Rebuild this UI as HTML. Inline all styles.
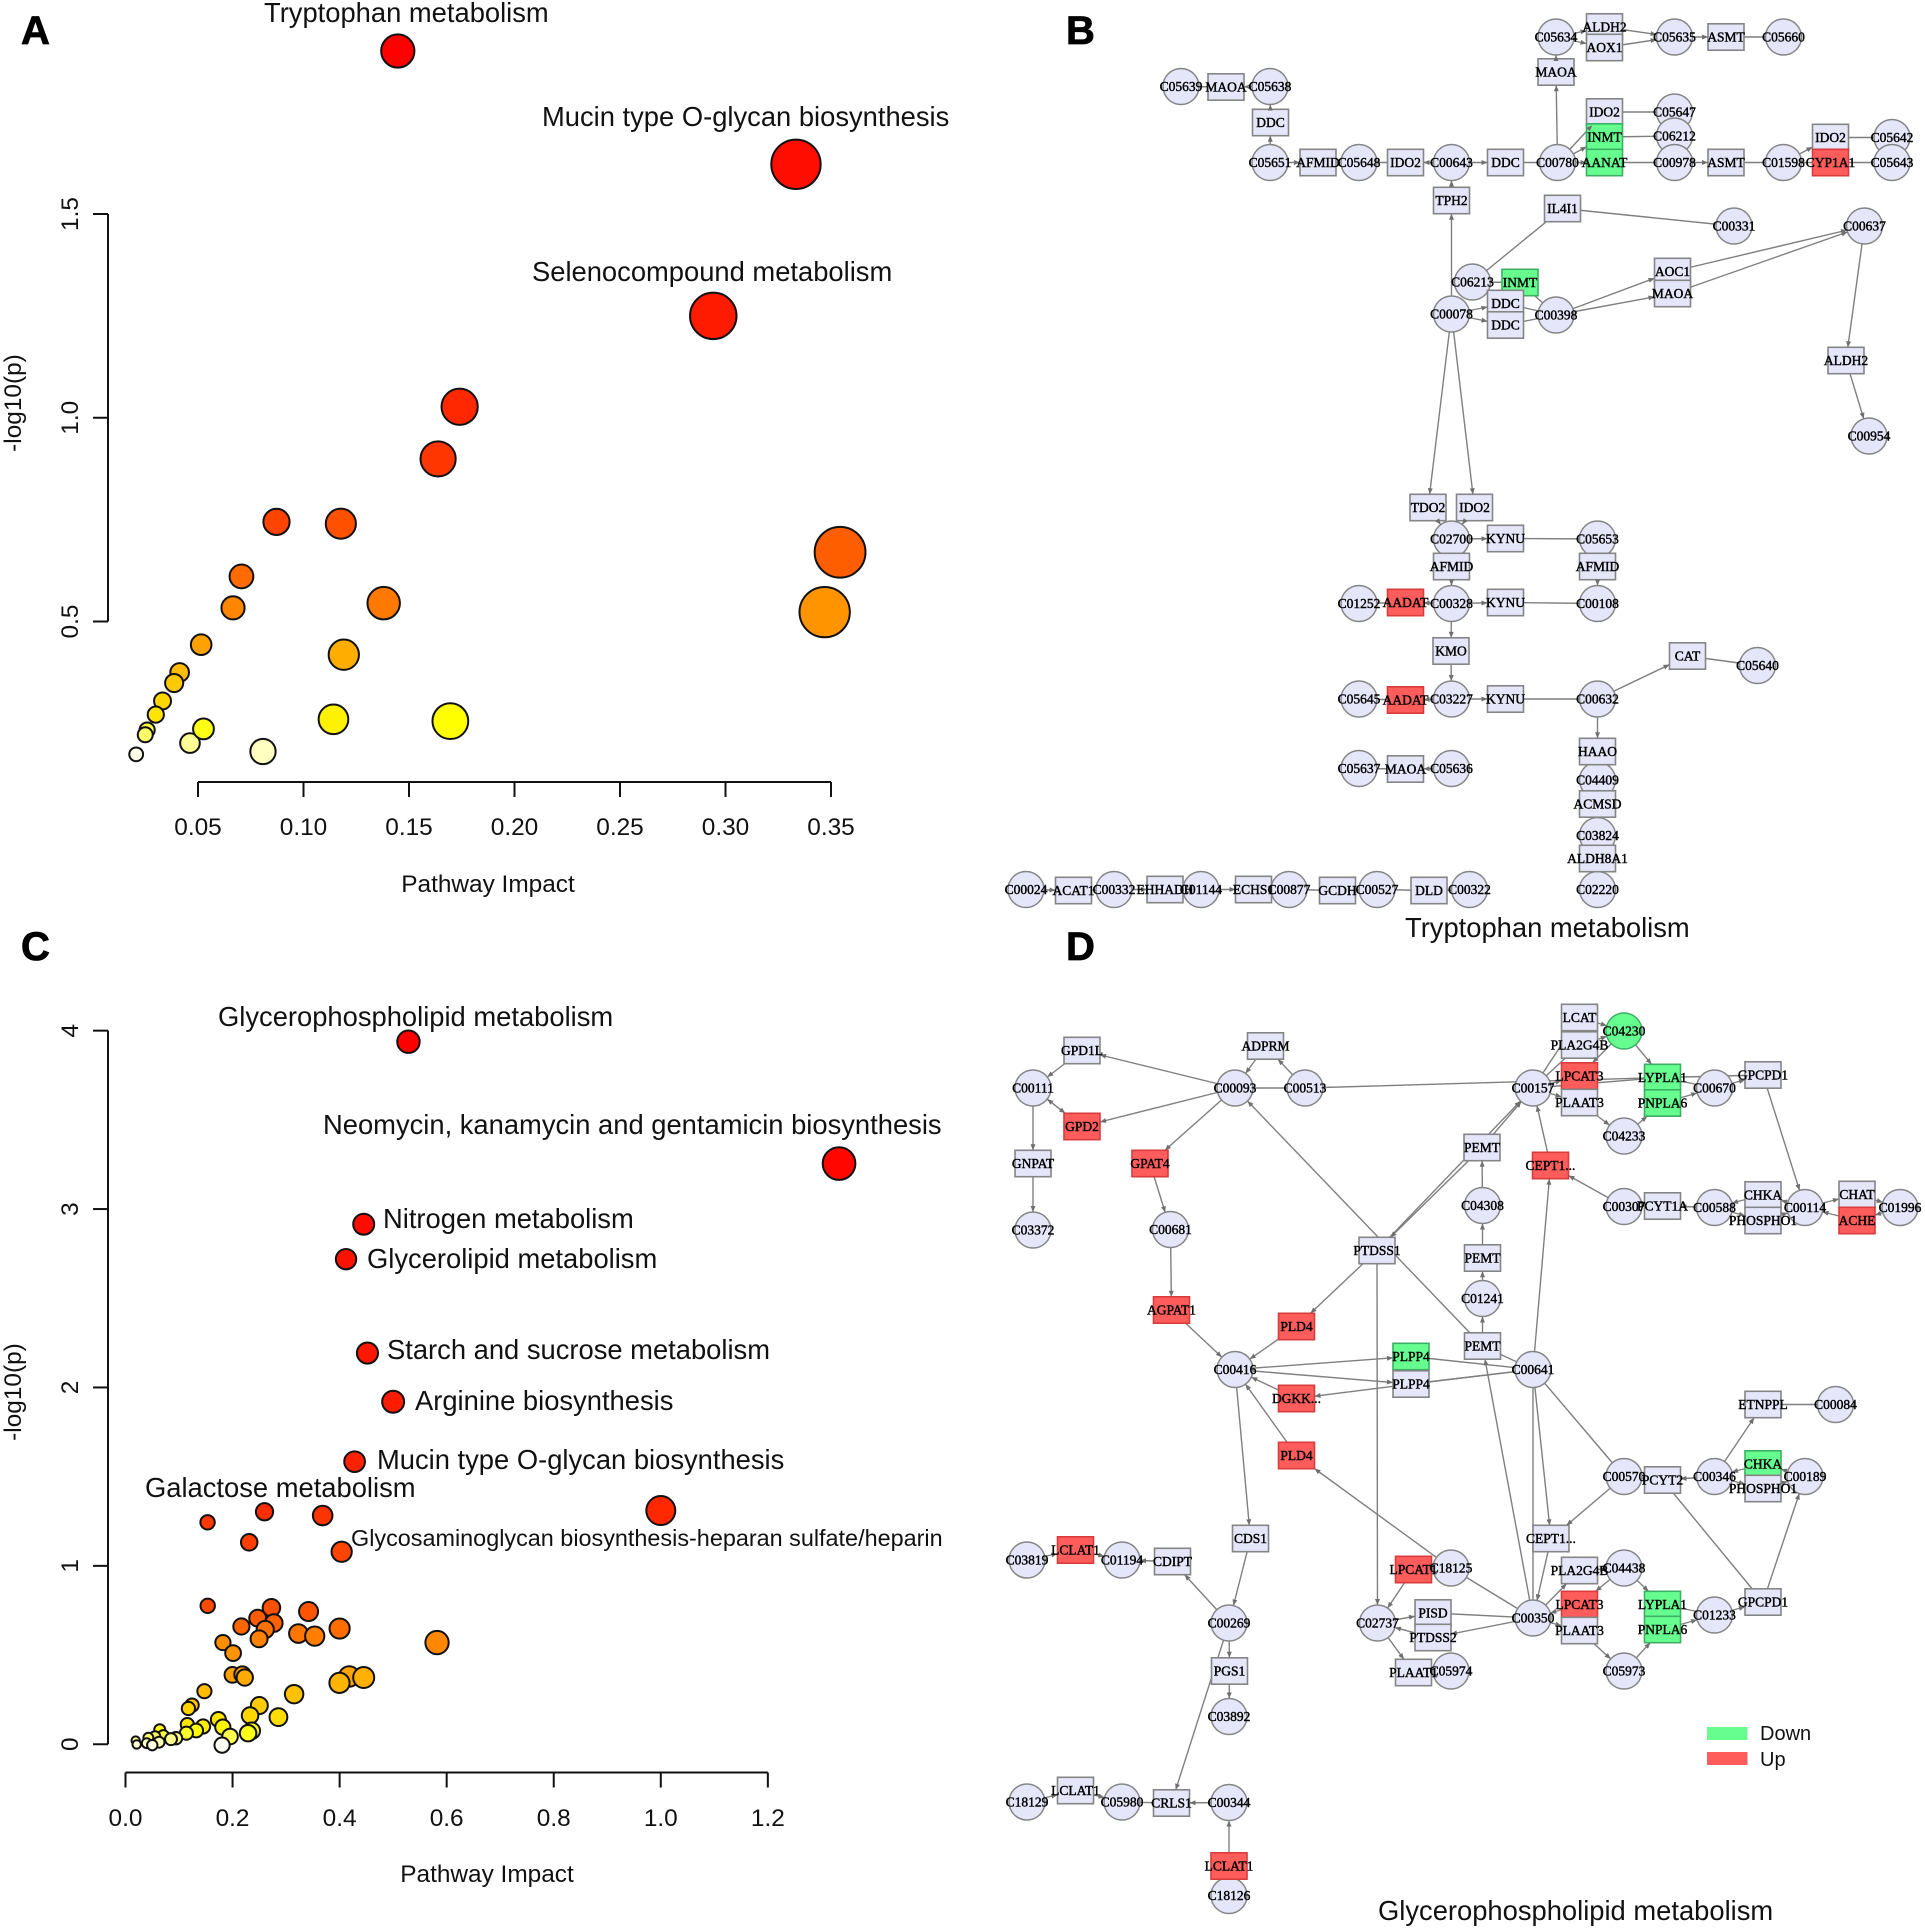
<!DOCTYPE html>
<html lang="en">
<head>
<meta charset="utf-8">
<title>Metabolic pathway analysis figure</title>
<style>
html,body{margin:0;padding:0;background:#fff;width:1925px;height:1930px;overflow:hidden}
svg{display:block}
text{font-family:"Liberation Sans",sans-serif;fill:#111}
.plot-label{font-size:27.35px}
.axis-text{font-size:24.4px}
.panel-letter{font-size:40px;font-weight:bold;fill:#000;stroke:#000;stroke-width:.8}
.node-text{font-family:"Liberation Serif",serif;font-size:13.5px;fill:#000;stroke:#000;stroke-width:.42;text-anchor:middle}
</style>
</head>
<body>
<svg id="figure" xmlns="http://www.w3.org/2000/svg" width="1925" height="1930" viewBox="0 0 1925 1930">
  <rect width="1925" height="1930" fill="#fff"/>

  <g id="panel-a"></g>
  <g id="panel-b"></g>
  <g id="panel-c"></g>
  <g id="panel-d"></g>

  <text class="panel-letter" x="21" y="44">A</text>
  <text class="panel-letter" x="1066" y="44">B</text>
  <text class="panel-letter" x="21" y="960">C</text>
  <text class="panel-letter" x="1066" y="960">D</text>

  <text class="plot-label" x="264" y="22">Tryptophan metabolism</text>
  <text class="plot-label" x="542" y="126">Mucin type O-glycan biosynthesis</text>
  <text class="plot-label" x="532" y="281">Selenocompound metabolism</text>
  <text class="axis-text" x="488" y="892" text-anchor="middle">Pathway Impact</text>
  <text class="axis-text" x="21" y="403" text-anchor="middle" transform="rotate(-90 21 403)">-log10(p)</text>

  <text class="plot-label" x="218" y="1026">Glycerophospholipid metabolism</text>
  <text class="plot-label" x="323" y="1134">Neomycin, kanamycin and gentamicin biosynthesis</text>
  <text class="plot-label" x="383" y="1228">Nitrogen metabolism</text>
  <text class="plot-label" x="367" y="1268">Glycerolipid metabolism</text>
  <text class="plot-label" x="387" y="1359">Starch and sucrose metabolism</text>
  <text class="plot-label" x="415" y="1410">Arginine biosynthesis</text>
  <text class="plot-label" x="377" y="1469">Mucin type O-glycan biosynthesis</text>
  <text class="plot-label" x="145" y="1497">Galactose metabolism</text>
  <text x="351" y="1546" font-size="23.4">Glycosaminoglycan biosynthesis-heparan sulfate/heparin</text>
  <text class="axis-text" x="487" y="1882" text-anchor="middle">Pathway Impact</text>
  <text class="axis-text" x="21" y="1392" text-anchor="middle" transform="rotate(-90 21 1392)">-log10(p)</text>

  <text class="plot-label" x="1405" y="937">Tryptophan metabolism</text>
  <text class="plot-label" x="1378" y="1920">Glycerophospholipid metabolism</text>

  <g>
    <rect x="1707" y="1727" width="40.5" height="13" fill="#66FF8F"/>
    <text x="1760" y="1740" font-size="20">Down</text>
    <rect x="1707" y="1752" width="40.5" height="13" fill="#FF5C5C"/>
    <text x="1760" y="1766" font-size="20">Up</text>
  </g>
</svg>

<script>
// ---- Panel A data ----
const aImpact = [0.1447,0.3334,0.2942,0.174,0.1638,0.0872,0.1177,0.3543,0.347,0.0706,0.0666,0.138,0.0515,0.1191,0.0413,0.0387,0.0332,0.030,0.0259,0.025,0.0207,0.0462,0.0526,0.0808,0.1142,0.1696];
const aLogP = [1.90,1.622,1.25,1.027,0.899,0.7445,0.74,0.67,0.523,0.6106,0.5335,0.545,0.443,0.4185,0.375,0.349,0.305,0.2715,0.2336,0.222,0.174,0.2016,0.2365,0.181,0.26,0.2555];
const aXTicks = ["0.05","0.10","0.15","0.20","0.25","0.30","0.35"];
const aYTicks = ["0.5","1.0","1.5"];

// ---- Panel C data ----
const cImpact = [0.5286,1.333,0.445,0.412,0.452,0.50,0.428,1.0,0.2597,0.3683,0.1533,0.2311,0.4038,0.1536,0.2726,0.342,0.247,0.277,0.2165,0.261,0.40,0.323,0.3535,0.2495,0.582,0.182,0.201,0.1997,0.2184,0.2228,0.418,0.445,0.3997,0.1474,0.315,0.25,0.1243,0.1175,0.2327,0.2857,0.1735,0.1155,0.1449,0.064,0.1818,0.1321,0.2358,0.229,0.1137,0.1953,0.0707,0.0944,0.085,0.0551,0.0427,0.019,0.0626,0.0396,0.0209,0.05,0.1804];
const cLogP = [3.938,3.255,2.915,2.719,2.193,1.92,1.584,1.31,1.303,1.282,1.244,1.132,1.079,0.776,0.765,0.744,0.7066,0.679,0.66,0.643,0.6486,0.6205,0.606,0.591,0.57,0.57,0.511,0.389,0.391,0.374,0.38,0.374,0.344,0.2975,0.2807,0.217,0.219,0.2004,0.161,0.152,0.139,0.1105,0.0995,0.081,0.0957,0.077,0.0754,0.062,0.062,0.0434,0.0474,0.034,0.0284,0.0434,0.0362,0.021,0.0115,0.006,-0.001,-0.005,-0.005];
const cXTicks = ["0.0","0.2","0.4","0.6","0.8","1.0","1.2"];
const cYTicks = ["0","1","2","3","4"];

// ---- Network diagram B: [key, centre x, centre y, regulation] ----
const bNodes = [
["C05634",1556,37],["ALDH2#a",1604.5,27],["AOX1",1604.5,47.5],["C05635",1674.5,37],["ASMT#a",1726,37],["C05660",1783.5,37],["MAOA#t",1556,72],
["C05639",1181,86.5],["MAOA#a",1226,87],["C05638",1270,86.5],["DDC#a",1270.5,122.5],["C05651",1270,162.5],["AFMID#a",1318,162.5],["C05648",1359,162.5],["IDO2#a",1405.5,162.5],["C00643",1451.5,162.5],["DDC#b",1505.5,162.5],["C00780",1557.5,162.5],
["IDO2#b",1604.5,112],["C05647",1674.5,112],["INMT#a",1604.5,137,"g"],["C06212",1674.5,136],["AANAT",1604.5,162.5,"g"],["C00978",1674.5,162.5],["ASMT#b",1726,162.5],["C01598",1783.5,162.5],["IDO2#c",1830.5,137.5],["C05642",1892,137.5],["CYP1A1",1830.5,162.5,"r"],["C05643",1892,162.5],
["TPH2",1451.5,200.5],["IL4I1",1562.5,208.5],["C00331",1734,226],["C00637",1864.5,226],["C06213",1472.5,282],["INMT#b",1520,282.5,"g"],["DDC#c",1505.5,303.5],["DDC#d",1505.5,325],["C00078",1451.5,314],["C00398",1556,315],["AOC1",1672.5,271.5],["MAOA#b",1672.5,293.5],["ALDH2#b",1846,360.5],["C00954",1869,436],
["TDO2",1428,507.5],["IDO2#d",1474.5,507.5],["C02700",1451.5,539],["KYNU#a",1505.5,538.5],["C05653",1597.5,539],["AFMID#b",1451.5,566.5],["AFMID#c",1597.5,566.5],["C01252",1359,603.5],["AADAT#a",1405.5,602.5,"r"],["C00328",1451.5,603.5],["KYNU#b",1505.5,602.5],["C00108",1597.5,603.5],["KMO",1451,651],["CAT",1687.5,656],["C05640",1757.5,665.5],
["C05645",1359,699],["AADAT#b",1405.5,700,"r"],["C03227",1451.5,699],["KYNU#c",1505.5,699],["C00632",1597.5,699],["HAAO",1597.5,751.5],["C04409",1597.5,780],["C05637",1359,768.5],["MAOA#c",1405.5,769],["C05636",1451.5,768.5],["ACMSD",1597.5,804],["C03824",1597.5,835.5],["ALDH8A1",1597.5,858.5],["C02220",1597.5,889.5],
["C00024",1026,889.5],["ACAT1",1073.5,890.5],["C00332",1114,889.5],["EHHADH",1165,889.5],["C01144",1201,889.5],["ECHS1",1253.5,889.5],["C00877",1289,889.5],["GCDH",1337.5,890.5],["C00527",1377,889.5],["DLD",1429,890.5],["C00322",1469.5,889.5]
];
const bEdges = ["C05634>ALDH2#a","C05634>AOX1","ALDH2#a>C05635","AOX1>C05635","C05635>ASMT#a","ASMT#a-C05660","MAOA#t>C05634","C00780>MAOA#t","C05638>MAOA#a","MAOA#a-C05639","C05651>DDC#a","DDC#a>C05638","C05651>AFMID#a","AFMID#a-C05648","C05648-IDO2#a","C00643>IDO2#a","C00643>DDC#b","DDC#b-C00780","C00780>IDO2#b","C00780>INMT#a","C00780>AANAT","IDO2#b-C05647","INMT#a-C06212","AANAT-C00978","C00978>ASMT#b","ASMT#b-C01598","C01598>IDO2#c","C01598-CYP1A1","IDO2#c-C05642","CYP1A1-C05643","TPH2>C00643","C00078>TPH2","IL4I1-C00331","C06213-IL4I1","C06213-INMT#b","INMT#b-C00398","C00078>DDC#c","C00078>DDC#d","DDC#c-C00398","DDC#d-C00398","C00398>AOC1","C00398>MAOA#b","AOC1>C00637","MAOA#b>C00637","C00637>ALDH2#b","ALDH2#b>C00954","C00078>TDO2","C00078>IDO2#d","TDO2>C02700","IDO2#d>C02700","C02700>KYNU#a","KYNU#a-C05653","C02700-AFMID#b","AFMID#b>C00328","C05653-AFMID#c","AFMID#c>C00108","C01252-AADAT#a","C00328>AADAT#a","C00328>KYNU#b","KYNU#b-C00108","C00328>KMO","KMO>C03227","C05645-AADAT#b","C03227>AADAT#b","C03227>KYNU#c","KYNU#c-C00632","C00632>CAT","CAT-C05640","C00632>HAAO","HAAO-C04409","C04409-ACMSD","ACMSD-C03824","C03824-ALDH8A1","ALDH8A1-C02220","C05637-MAOA#c","C05636>MAOA#c","C00024>ACAT1","ACAT1-C00332","C00332>EHHADH","EHHADH-C01144","C01144>ECHS1","ECHS1-C00877","C00877-GCDH","GCDH-C00527","C00527-DLD","DLD-C00322"];

// ---- Network diagram D: [key, centre x, centre y, regulation] ----
const dNodes = [
["GPD1L",1082,1050.5],["ADPRM",1265.5,1046],["LCAT",1579.5,1017.5],["PLA2G4B#a",1579.5,1045],["C04230",1624,1031,"g"],["C00111",1033,1088],["C00093",1235,1088],["C00513",1305,1088],["C00157",1533,1088],["LPCAT3#a",1579.5,1076,"r"],["LYPLA1#a",1662.5,1077.5,"g"],["C00670",1714.5,1088],["GPCPD1#a",1763,1075],["PLAAT3#a",1579.5,1102.5],["PNPLA6#a",1662.5,1103,"g"],["C04233",1624,1136],["GPD2",1082,1126.5,"r"],["GNPAT",1033,1163.5],["GPAT4",1150,1163.5,"r"],["PEMT#a",1482,1147.5],["CEPT1...#a",1550.5,1165.5,"r"],["C03372",1033,1230],["C00681",1170.5,1229.5],["C04308",1482.5,1205.5],["C00307",1624,1206.5],["PCYT1A",1662.5,1206],["C00588",1714.5,1207.5],["CHKA#a",1763,1195],["C00114",1805,1207.5],["CHAT",1857,1194.5],["C01996",1900,1207.5],["PHOSPHO1#a",1763,1220.5],["ACHE",1857,1220.5,"r"],["PTDSS1",1377,1250.5],["PEMT#b",1482.5,1258],["C01241",1482.5,1298.5],["AGPAT1",1171.5,1310,"r"],["PLD4#a",1296.5,1326.5,"r"],["PEMT#c",1482.5,1346],["PLPP4#g",1411,1356.5,"g"],["C00416",1235,1369.5],["C00641",1533,1369.5],["PLPP4#p",1411,1384],["DGKK...",1296.5,1398.5,"r"],["ETNPPL",1763,1404.5],["C00084",1835.5,1404.5],["PLD4#b",1296.5,1455.5,"r"],
["CHKA#b",1763,1464,"g"],["C00570",1624,1476.5],["PCYT2",1662.5,1480],["C00346",1714.5,1476.5],["C00189",1805,1476.5],["PHOSPHO1#b",1763,1488.5],["CEPT1...#b",1551,1538.5],["CDS1",1250.5,1538.5],["C03819",1027,1560],["LCLAT1#a",1075.5,1550,"r"],["C01194",1122,1560],["CDIPT",1172.5,1561.5],["LPCAT1",1413.5,1569.5,"r"],["C18125",1451,1568],["PLA2G4B#b",1579.5,1570.5],["C04438",1624,1568],["LPCAT3#b",1579.5,1604.5,"r"],["LYPLA1#b",1662.5,1604.5,"g"],["C01233",1714.5,1615],["GPCPD1#b",1763,1602],["C02737",1377.5,1623],["PISD",1433,1613],["C00350",1533,1618],["C00269",1229,1623],["PTDSS2",1433,1637.5],["PLAAT3#b",1579.5,1630.5],["PNPLA6#b",1662.5,1629.5,"g"],["PGS1",1229.5,1671],["PLAAT1",1413.5,1672.5],["C05974",1451,1671],["C05973",1624,1671],["C03892",1229,1716.5],["LCLAT1#b",1075.5,1790.5],["C18129",1027,1802],["C05980",1122,1802],["CRLS1",1171.5,1803],["C00344",1229,1802.5],["LCLAT1#c",1229,1866,"r"],["C18126",1229,1895.5]
];
const dEdges = ["C00093>GPD1L","GPD1L>C00111","C00111>GPD2","GPD2>C00111","C00093>GPD2","C00111>GNPAT","GNPAT>C03372","ADPRM>C00093","C00513>ADPRM","C00093-C00513","C00513-LYPLA1#a","C00093>GPAT4","GPAT4>C00681","C00681>AGPAT1","AGPAT1>C00416","PEMT#c>C00093","C00641-PEMT#c","PTDSS1>PLD4#a","PLD4#a>C00416","PTDSS1>C02737","PEMT#a>PTDSS1","PTDSS1>C00157","PEMT#a>C00157","C04308>PEMT#a","PEMT#b>C04308","C01241>PEMT#b","PEMT#c>C01241","C00416>PLPP4#g","C00416>PLPP4#p","PLPP4#g-C00641","PLPP4#p-C00641","C00641-PLPP4#p","PLPP4#p>DGKK...","DGKK...>C00416","PLD4#b>C00416","C18125>PLD4#b","C00416>CDS1","CDS1>C00269","C00269>CDIPT","CDIPT>C01194","C03819>LCLAT1#a","LCLAT1#a>C01194","C00269>PGS1","PGS1>C03892","C00269>CRLS1","C00344>CRLS1","CRLS1-C05980","LCLAT1#b>C05980","C18129>LCLAT1#b","LCLAT1#c>C00344","C18126-LCLAT1#c","C00641>CEPT1...#a","CEPT1...#a>C00157","C00307>CEPT1...#a","C00307-PCYT1A","C00588>PCYT1A","CHKA#a>C00588","C00588>PHOSPHO1#a","C00114>CHKA#a","PHOSPHO1#a>C00114","C00114>CHAT","CHAT>C01996","C01996>ACHE","ACHE>C00114","C00157>LPCAT3#a","C00157>PLAAT3#a","C00157-PLA2G4B#a","C00157-LCAT","C00157-LYPLA1#a","C04230>LPCAT3#a","LCAT>C04230","PLA2G4B#a>C04230","C04230>LYPLA1#a","LYPLA1#a-C00670","PNPLA6#a>C00670","C04233>PNPLA6#a","PLAAT3#a>C04233","C00670>GPCPD1#a","LYPLA1#a-GPCPD1#a","GPCPD1#a>C00114","C00641-C00350","C00350>PEMT#c","C00641>CEPT1...#b","C00641-C00570","C00570>CEPT1...#b","CEPT1...#b>C00350","C00570-PCYT2","C00346>PCYT2","ETNPPL-C00084","C00346>ETNPPL","CHKA#b>C00346","C00346>PHOSPHO1#b","C00189>CHKA#b","PHOSPHO1#b>C00189","PCYT2-GPCPD1#b","GPCPD1#b>C00189","C18125-C00350","C00350>PLA2G4B#b","C04438>LPCAT3#b","PLA2G4B#b>C04438","C04438>LYPLA1#b","LYPLA1#b-C01233","PNPLA6#b>C01233","C01233>GPCPD1#b","LPCAT3#b>C00350","C00350>PLAAT3#b","PLAAT3#b>C05973","C05973>PNPLA6#b","C00350-PISD","C02737>PISD","C00350>PTDSS2","PTDSS2>C02737","LPCAT1>C02737","C02737>PLAAT1","LPCAT1-C18125","PLAAT1-C05974"];

const SVGNS = "http://www.w3.org/2000/svg";
function make(tag, attrs, parent) {
  const el = document.createElementNS(SVGNS, tag);
  for (const k in attrs) el.setAttribute(k, attrs[k]);
  parent.appendChild(el);
  return el;
}
function hsv(h, s) {
  const c = s, hp = h / 60, x = c * (1 - Math.abs(hp % 2 - 1));
  const m = 1 - c;
  const r = (hp < 1 ? c : x) + m, g = (hp < 1 ? x : c) + m, b = m;
  return "rgb(" + Math.round(r * 255) + "," + Math.round(g * 255) + "," + Math.round(b * 255) + ")";
}
// R heat.colors() palette, assigned by significance rank
function heatColor(i, n) {
  const j = Math.floor(n / 4), k = n - j;
  if (i < k) return hsv(60 * i / (k - 1), 1);
  const s0 = 1 - 1 / (2 * j), s1 = 1 / (2 * j);
  return hsv(60, j > 1 ? s0 + (s1 - s0) * (i - k) / (j - 1) : s0);
}
function drawAxes(group, xLabels, yLabels, xScale, yScale, xTickVal, yTickVal, axisX, axisY, xLabelY, prefix) {
  const yl = make("line", {x1: axisX, x2: axisX, y1: yScale(yTickVal[0]), y2: yScale(yTickVal[yTickVal.length - 1]), stroke: "#111", "stroke-width": 2}, group);
  
  
  const xl = make("line", {x1: xScale(xTickVal[0]), x2: xScale(xTickVal[xTickVal.length - 1]), y1: axisY, y2: axisY, stroke: "#111", "stroke-width": 2}, group);
  
  
  xLabels.forEach(function (lab, i) {
    const px = xScale(xTickVal[i]);
    const t = make("line", {x1: px, x2: px, y1: axisY, y2: axisY + 15, stroke: "#111", "stroke-width": 2}, group);
    
    
    const tx = make("text", {x: px, y: xLabelY, "text-anchor": "middle", class: "axis-text"}, group);
    
    
    tx.textContent = lab;
  });
  yLabels.forEach(function (lab, i) {
    const py = yScale(yTickVal[i]);
    const t = make("line", {x1: axisX - 15, x2: axisX, y1: py, y2: py, stroke: "#111", "stroke-width": 2}, group);
    
    
    const tx = make("text", {x: 78, y: py, "text-anchor": "middle", class: "axis-text", transform: "rotate(-90 78 " + py + ")"}, group);
    
    
    tx.textContent = lab;
  });
}
function drawPoints(group, xs, ys, xScale, yScale, rScale, prefix) {
  const order = ys.map(function (v, i) { return i; }).sort(function (a, b) { return ys[b] - ys[a]; });
  const rank = [];
  order.forEach(function (idx, r) { rank[idx] = r; });
  xs.forEach(function (x, i) {
    const c = make("circle", {cx: xScale(x), cy: yScale(ys[i]), r: rScale(x), fill: heatColor(rank[i], xs.length), stroke: "#111", "stroke-width": 2}, group);
    
    
  });
}

// Panel A
(function () {
  const g = document.getElementById("panel-a");
  const xScale = function (v) { return 198 + (v - 0.05) * 2110; };
  const yScale = function (v) { return 621.5 - (v - 0.5) * 407.5; };
  const rScale = function (v) { return 1 + 41 * Math.sqrt(v); };
  drawAxes(g, aXTicks, aYTicks, xScale, yScale, aXTicks.map(Number), aYTicks.map(Number), 108, 782, 835, "panel-a");
  drawPoints(g, aImpact, aLogP, xScale, yScale, rScale, "panel-a");
})();

// Panel C
(function () {
  const g = document.getElementById("panel-c");
  const xScale = function (v) { return 125.5 + v * 535.3; };
  const yScale = function (v) { return 1744.25 - v * 178.4; };
  const rScale = function (v) { return 2.5 + 12 * Math.sqrt(v); };
  drawAxes(g, cXTicks, cYTicks, xScale, yScale, cXTicks.map(Number), cYTicks.map(Number), 108, 1772.5, 1826, "panel-c");
  drawPoints(g, cImpact, cLogP, xScale, yScale, rScale, "panel-c");
})();

// Networks
function drawNetwork(group, nodes, edges, prefix) {
  const NODE_R = 18, HW = 18, HH = 13.2;
  const index = {};
  nodes.forEach(function (n) { index[n[0]] = n; });
  const isCompound = function (key) { return /^C\d{5}$/.test(key); };
  const edgeLayer = make("g", {}, group);
  
  
  const circleLayer = make("g", {}, group);
  
  
  const rectLayer = make("g", {}, group);
  
  
  const textLayer = make("g", {}, group);
  
  

  edges.forEach(function (e) {
    const parts = e.split(/[>-]/);
    const a = index[parts[0]], b = index[parts[1]];
    if (!a || !b) return;
    const line = make("line", {x1: a[1], y1: a[2], x2: b[1], y2: b[2], stroke: "#7f7f7f", "stroke-width": 1.4}, edgeLayer);
    
    
    if (e.indexOf(">") < 0) return;
    const dx = a[1] - b[1], dy = a[2] - b[2], len = Math.hypot(dx, dy) || 1;
    const ux = dx / len, uy = dy / len;
    let d;
    if (isCompound(parts[1])) d = NODE_R;
    else d = Math.min(HW / (Math.abs(ux) || 1e-6), HH / (Math.abs(uy) || 1e-6));
    if (d > len) return;
    const tx = b[1] + ux * d, ty = b[2] + uy * d;
    const bx = tx + ux * 6, by = ty + uy * 6;
    const pts = tx + "," + ty + " " + (bx - uy * 2.5) + "," + (by + ux * 2.5) + " " + (bx + uy * 2.5) + "," + (by - ux * 2.5);
    const head = make("polygon", {points: pts, fill: "#6f6f6f"}, group);
    
    
  });

  nodes.forEach(function (n) {
    const label = n[0].split("#")[0];
    const slug = label.toLowerCase().replace(/[^a-z0-9]/g, "");
    const fill = n[3] === "r" ? "#FF5C5C" : n[3] === "g" ? "#66FF8F" : "#E6E6FA";
    const stroke = n[3] === "r" ? "#D83C3C" : n[3] === "g" ? "#3CAF64" : "#858585";
    let shape;
    if (isCompound(label)) {
      shape = make("circle", {cx: n[1], cy: n[2], r: NODE_R, fill: fill, stroke: stroke, "stroke-width": 1.5}, circleLayer);
    } else {
      shape = make("rect", {x: n[1] - HW, y: n[2] - HH, width: HW * 2, height: HH * 2, fill: fill, stroke: stroke, "stroke-width": 1.6}, rectLayer);
    }
    
    
    const t = make("text", {x: n[1], y: n[2] + 4.5, class: "node-text"}, textLayer);
    
    
    t.textContent = label;
  });
  // arrowheads sit above the shapes' edge lines, labels stay on top
  group.appendChild(circleLayer);
  group.appendChild(rectLayer);
  Array.from(group.querySelectorAll("polygon")).forEach(function (p) { group.appendChild(p); });
  group.appendChild(textLayer);
}
drawNetwork(document.getElementById("panel-b"), bNodes, bEdges, "panel-b");
drawNetwork(document.getElementById("panel-d"), dNodes, dEdges, "panel-d");
</script>
</body>
</html>
